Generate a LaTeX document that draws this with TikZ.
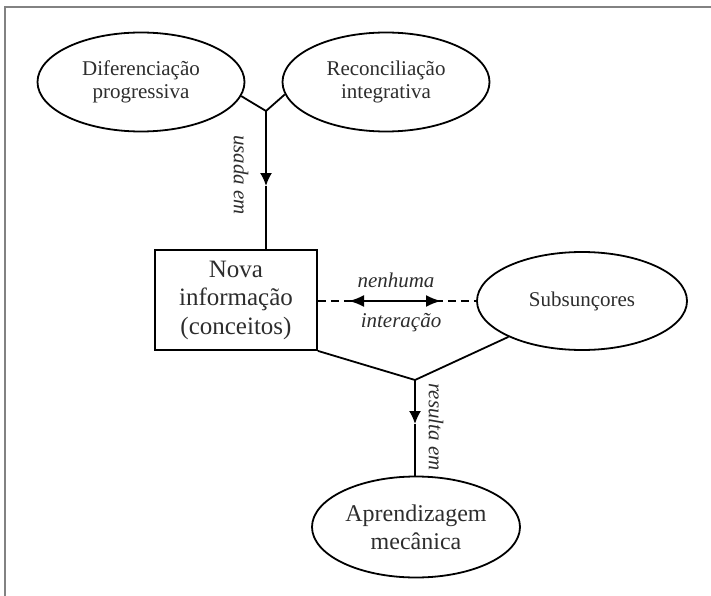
\documentclass[tikz,border=0pt]{standalone}
\usepackage{fontspec}
\setmainfont{Liberation Serif}
\usetikzlibrary{shapes.geometric,arrows.meta}
\definecolor{framegray}{RGB}{130,130,130}
\definecolor{txt}{RGB}{45,45,45}
\begin{document}
\begin{tikzpicture}[x=1pt,y=-1pt,
  line width=1.8pt,
  ell/.style={ellipse,draw,inner sep=0pt,align=center,text=txt},
  small/.style={font=\fontsize{21}{23}\selectfont},
  big/.style={font=\fontsize{25}{28.5}\selectfont},
  lbl/.style={font=\fontsize{21}{23}\selectfont\itshape,text=txt},
  tip/.style={-{Latex[length=13pt,width=12pt]}},
  dtip/.style={{Latex[length=15pt,width=12pt]}-{Latex[length=15pt,width=12pt]}},
]
\useasboundingbox (0,0) rectangle (711,596);
\draw[framegray,line width=1.5pt] (5,596) -- (5,7) -- (711,7);
\node[ell,small,minimum width=207pt,minimum height=99pt] (dp) at (141,82) {Diferenciação\\progressiva};
\node[ell,small,minimum width=207pt,minimum height=99pt] (ri) at (386,82) {Reconciliação\\integrativa};
\node[draw,big,align=center,text=txt,minimum width=162pt,minimum height=100pt,inner sep=0pt] (ni) at (236,300) {Nova\\informação\\(conceitos)};
\node[ell,small,minimum width=210pt,minimum height=98pt] (sb) at (582,301) {Subsunçores};
\node[ell,font=\fontsize{24}{28}\selectfont,minimum width=208pt,minimum height=101pt] (am) at (416,527) {Aprendizagem\\mecânica};
\coordinate (j1) at (266,111);
\coordinate (t1) at (266,186);
\coordinate (j2) at (415,380);
\coordinate (t2) at (415,424);
\coordinate (a1) at (349,301);
\coordinate (a2) at (441,301);
\draw (dp.-8) -- (j1) -- (ri.187);
\draw[tip] (j1) -- (t1);
\draw (t1) -- (j1 |- ni.north);
\draw (ni.south east) -- (j2) -- (sb.206);
\draw[tip] (j2) -- (t2);
\draw (t2) -- (j2 |- am.north);
\draw[dash pattern=on 8pt off 5pt] (ni.east |- a1) -- (sb.west);
\draw[dtip] (a1) -- (a2);
\node[lbl,anchor=base] (l1) at (396,287) {nenhuma};
\node[lbl,anchor=base] (l2) at (401,327) {interação};
\node[lbl,rotate=-90] (l3) at (241,175) {usada em};
\node[lbl,rotate=-90] (l4) at (436,427) {resulta em};
\end{tikzpicture}
\end{document}
